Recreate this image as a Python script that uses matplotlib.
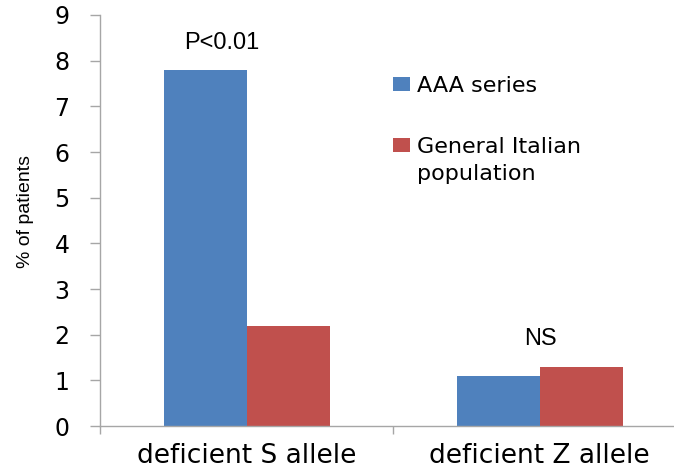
import matplotlib
matplotlib.use("Agg")
import matplotlib.pyplot as plt
from matplotlib.patches import Rectangle
from matplotlib.legend_handler import HandlerPatch
import numpy as np

categories = ["deficient S allele", "deficient Z allele"]
series_names = ["AAA series", "General Italian\npopulation"]
aaa_values = [7.8, 1.1]
general_values = [2.2, 1.3]
annotations = ["P<0.01", "NS"]
yticks = list(range(0, 10))

blue = "#4F81BD"
red = "#C0504D"
gray = "#A6A6A6"

W, H = 674, 469
fig = plt.figure(figsize=(W / 100, H / 100), dpi=100)
ax = fig.add_axes([100 / W, (H - 426) / H, 574 / W, (426 - 15) / H])

x = np.arange(len(categories))
w = 83 / 293
b1 = ax.bar(x - w / 2, aaa_values, w, color=blue, label=series_names[0])
b2 = ax.bar(x + w / 2, general_values, w, color=red, label=series_names[1])

ax.set_xlim(-0.5, -0.5 + 574 / 293)
ax.set_ylim(0, 9)
ax.set_yticks(yticks)
ax.set_yticklabels([str(t) for t in yticks], fontsize=17, family="DejaVu Sans")
ax.tick_params(axis="y", direction="out", length=7, width=1, color=gray, pad=15)

ax.set_xticks([-0.5, 0.5])
ax.set_xticklabels([])
ax.tick_params(axis="x", which="major", direction="out", length=6, width=1, color=gray)
ax.set_xticks(x, minor=True)
ax.set_xticklabels(categories, minor=True, fontsize=19, family="DejaVu Sans")
ax.tick_params(axis="x", which="minor", length=0, pad=12)

for s in ["top", "right"]:
    ax.spines[s].set_visible(False)
for s in ["left", "bottom"]:
    ax.spines[s].set_color(gray)
    ax.spines[s].set_linewidth(1)

fig.text(26 / W, 1 - 211 / H, "% of patients", rotation=90, ha="center", va="center",
         fontsize=14, family="Liberation Sans")

ax.text(x[0] - w / 2 + (221 - 204.5) / 293, 8.39, annotations[0], ha="center", va="center",
        fontsize=17, family="Liberation Sans")
ax.text(x[1] + (540 - 539) / 293, 1.9, annotations[1], ha="center", va="center",
        fontsize=17, family="Liberation Sans")


def shifted_patch(offset_pt):
    def make(legend, orig_handle, xdescent, ydescent, width, height, fontsize):
        return Rectangle((-xdescent, -ydescent + offset_pt), width, height)
    return make


h1 = b1.patches[0]
h2 = b2.patches[0]
leg = fig.legend(handles=[h1, h2], labels=series_names, loc="upper left",
                 bbox_to_anchor=(373 / W, 1 - 56 / H),
                 frameon=False, handlelength=0.75, handleheight=0.55,
                 handletextpad=0.35, labelspacing=1.85, prop={"family": "DejaVu Sans", "size": 16},
                 handler_map={h2: HandlerPatch(patch_func=shifted_patch(11.5))})
for t in leg.get_texts():
    t.set_linespacing(1.45)

fig.savefig("out.png", dpi=100)
